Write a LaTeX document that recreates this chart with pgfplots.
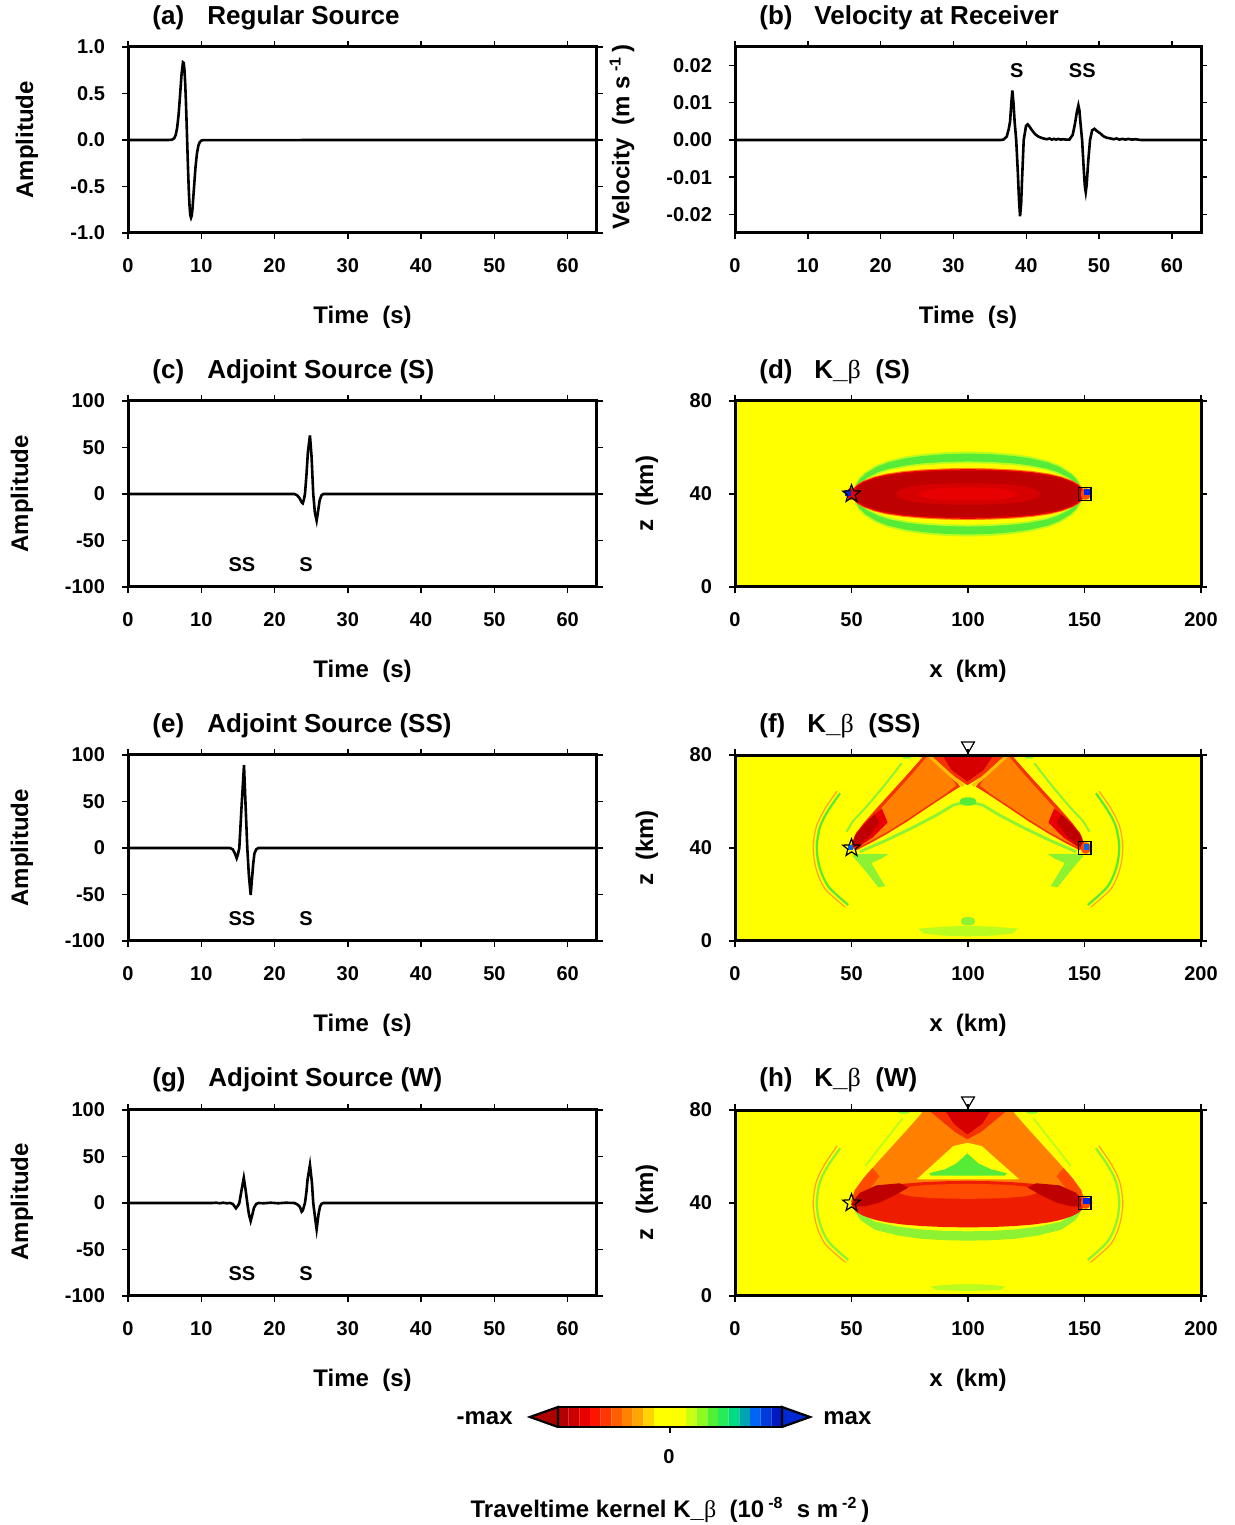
\documentclass[border=0pt]{standalone}
\usepackage{fontspec}
\setmainfont{Liberation Sans}
\newfontfamily\grk{Liberation Serif}
\usepackage{pgfplots}
\usepackage{pgfplotstable}
\pgfplotsset{compat=1.18}

% kernel palette
\definecolor{kYellow}{RGB}{255,255,0}
\definecolor{kDark}{RGB}{190,0,0}
\definecolor{kRed}{RGB}{235,0,0}
\definecolor{kRedM}{RGB}{215,0,0}
\definecolor{kRedB}{RGB}{232,0,0}
\definecolor{kRedO}{RGB}{245,50,0}
\definecolor{kRedL}{RGB}{238,28,0}
\definecolor{kRedOr}{RGB}{255,75,0}
\definecolor{kOrange}{RGB}{255,128,0}
\definecolor{kLtOrange}{RGB}{255,190,0}
\definecolor{kGreen}{RGB}{85,235,55}
\definecolor{kYG}{RGB}{185,252,30}
\definecolor{kLG}{RGB}{140,242,50}
\definecolor{kArcO}{RGB}{255,160,40}
\definecolor{kBlue}{RGB}{0,40,230}
% colour scale bins
\definecolor{cb0}{RGB}{180,0,0}
\definecolor{cb1}{RGB}{205,0,0}
\definecolor{cb2}{RGB}{235,0,0}
\definecolor{cb3}{RGB}{255,20,0}
\definecolor{cb4}{RGB}{255,55,0}
\definecolor{cb5}{RGB}{255,95,0}
\definecolor{cb6}{RGB}{255,130,0}
\definecolor{cb7}{RGB}{255,165,0}
\definecolor{cb8}{RGB}{255,210,0}
\definecolor{cb12}{RGB}{200,255,20}
\definecolor{cb13}{RGB}{140,250,30}
\definecolor{cb14}{RGB}{80,240,50}
\definecolor{cb15}{RGB}{40,235,90}
\definecolor{cb16}{RGB}{0,220,130}
\definecolor{cb17}{RGB}{0,165,175}
\definecolor{cb18}{RGB}{0,100,245}
\definecolor{cb19}{RGB}{0,60,220}
\definecolor{cb20}{RGB}{0,25,195}
\definecolor{cbL}{RGB}{175,0,0}
\definecolor{cbR}{RGB}{0,40,210}

\newcommand\tickfont{\fontsize{10}{12}\selectfont\bfseries}
\newcommand\labfont{\fontsize{12}{14}\selectfont\bfseries}
\newcommand\titfont{\fontsize{13}{15}\selectfont\bfseries}
\newcommand\Kb{K\_{\grk\mdseries β}}

% outline star for the source position
\pgfdeclareplotmark{ostar}{%
  \pgfpathmoveto{\pgfpointpolar{90}{\pgfplotmarksize}}%
  \pgfpathlineto{\pgfpointpolar{126}{0.42\pgfplotmarksize}}%
  \pgfpathlineto{\pgfpointpolar{162}{\pgfplotmarksize}}%
  \pgfpathlineto{\pgfpointpolar{198}{0.42\pgfplotmarksize}}%
  \pgfpathlineto{\pgfpointpolar{234}{\pgfplotmarksize}}%
  \pgfpathlineto{\pgfpointpolar{270}{0.42\pgfplotmarksize}}%
  \pgfpathlineto{\pgfpointpolar{306}{\pgfplotmarksize}}%
  \pgfpathlineto{\pgfpointpolar{342}{0.42\pgfplotmarksize}}%
  \pgfpathlineto{\pgfpointpolar{18}{\pgfplotmarksize}}%
  \pgfpathlineto{\pgfpointpolar{54}{0.42\pgfplotmarksize}}%
  \pgfpathclose\pgfusepathqstroke}

% unit lens outline, scaled per contour
\pgfplotstableread{
u v
1 0
0.98 0.22
0.95 0.36
0.9 0.5
0.8 0.67
0.7 0.78
0.55 0.88
0.4 0.94
0.2 0.985
0 1
-0.2 0.985
-0.4 0.94
-0.55 0.88
-0.7 0.78
-0.8 0.67
-0.9 0.5
-0.95 0.36
-0.98 0.22
-1 0
-0.98 -0.22
-0.95 -0.36
-0.9 -0.5
-0.8 -0.67
-0.7 -0.78
-0.55 -0.88
-0.4 -0.94
-0.2 -0.985
0 -1
0.2 -0.985
0.4 -0.94
0.55 -0.88
0.7 -0.78
0.8 -0.67
0.9 -0.5
0.95 -0.36
0.98 -0.22
1 0
}\unitlens
% \lens{x centre}{z centre}{half length}{half height}{colour}
\newcommand\lens[5]{\addplot[draw=none,fill=#5] table[x expr={#1+#3*\thisrow{u}}, y expr={#2+#4*\thisrow{v}}] {\unitlens};}
\newcommand\cbin[3]{\addplot[draw=none,fill=#3] coordinates {(#1,0)(#2,0)(#2,1)(#1,1)(#1,0)};}

\pgfplotsset{
  base/.style={scale only axis, height=93pt,
    axis line style={line width=1.5pt},
    tick style={black, line width=0.7pt},
    tick align=outside, major tick length=3pt,
    tick label style={font=\tickfont},
    /pgf/number format/assume math mode=true,
    xticklabel style={yshift=-6pt},
    yticklabel style={xshift=-5pt}},
  wave/.style={base, width=234.5pt, xmin=0, xmax=64, xtick={0,10,...,60}},
  amp/.style={wave, ymin=-100, ymax=100, ytick={-100,-50,0,50,100}},
  kern/.style={base, width=233pt, xmin=0, xmax=200, ymin=0, ymax=80,
    xtick={0,50,100,150,200}, ytick={0,40,80}, axis on top, clip=false,
    axis background/.style={fill=kYellow}},
  trace/.style={black, line width=1.3pt},
  srcmark/.style={only marks, mark=ostar, mark size=4.6pt, mark options={black, line width=0.6pt}},
  recmark/.style={only marks, mark=square, mark size=3.2pt, mark options={black, line width=0.6pt}},
  surfmark/.style={only marks, mark=triangle, mark size=3.7pt, mark options={black, fill=white, line width=0.6pt, rotate=180}},
}

\begin{document}
\begin{tikzpicture}[font=\bfseries]
\path[use as bounding box] (0,0) rectangle (617.5pt,762.5pt);

% (a) regular source
\begin{axis}[wave, at={(64pt,646pt)}, anchor=south west,
  ymin=-1, ymax=1, ytick={-1,-0.5,0,0.5,1},
  yticklabel style={/pgf/number format/.cd, fixed, fixed zerofill, precision=1}]
\addplot[trace] coordinates {(0,0)(5.5,0)(6.0,0.003)(6.3,0.018)(6.5,0.051)(6.7,0.127)(6.9,0.267)(7.1,0.475)(7.3,0.70)(7.5,0.835)(7.6,0.829)(7.7,0.757)(7.8,0.619)(7.9,0.422)(8.0,0.181)(8.1,-0.079)(8.2,-0.329)(8.3,-0.547)(8.4,-0.711)(8.5,-0.808)(8.6,-0.835)(8.7,-0.812)(8.8,-0.738)(9.0,-0.52)(9.2,-0.304)(9.4,-0.149)(9.6,-0.062)(9.8,-0.022)(10.0,-0.007)(10.3,-0.001)(64,0)};
\end{axis}

% (b) velocity at receiver
\begin{axis}[base, width=233pt, xmin=0, xmax=64, xtick={0,10,...,60},
  at={(367.5pt,646pt)}, anchor=south west,
  ymin=-0.025, ymax=0.025, ytick={-0.02,-0.01,0,0.01,0.02}, scaled y ticks=false,
  yticklabel style={/pgf/number format/.cd, fixed, fixed zerofill, precision=2}]
\addplot[trace] coordinates {(0,0)(36.5,0)(36.86,0.0001)(37.32,0.0009)(37.6,0.0030)(37.78,0.0050)(37.95,0.0099)(38.09,0.0133)(38.25,0.0098)(38.4,0.0050)(38.62,0)(38.85,-0.0090)(39.0,-0.0160)(39.15,-0.0205)(39.3,-0.0170)(39.42,-0.0108)(39.65,0)(39.97,0.0038)(40.2,0.0042)(40.45,0.0036)(40.75,0.0027)(41.2,0.0016)(41.67,0.0009)(42.2,0.0005)(42.8,0.0002)(43.2,0.0004)(43.5,0.0001)(43.8,0.0003)(44.1,0.0001)(44.4,0.0003)(44.7,0.0001)(45.0,0.0002)(45.5,0.0001)(45.92,0.0001)(46.38,0.0014)(46.7,0.0045)(46.95,0.0075)(47.16,0.0093)(47.3,0.0080)(47.45,0.0045)(47.67,0)(47.9,-0.0080)(48.05,-0.0125)(48.17,-0.0140)(48.3,-0.0120)(48.5,-0.0060)(48.76,0)(49.05,0.0026)(49.36,0.0030)(49.7,0.0024)(50.14,0.0018)(50.6,0.0010)(51.06,0.0006)(51.6,0.0004)(52.0,0.0002)(52.4,0.0004)(52.8,0.0001)(53.2,0.0003)(53.6,0.0001)(54.0,0.0003)(54.5,0.0001)(55.0,0.0002)(55.7,0)(64,0)};
\node[font=\tickfont] at (axis cs:38.7,0.0186) {S};
\node[font=\tickfont] at (axis cs:47.7,0.0186) {SS};
\end{axis}

% (c) adjoint source, S window
\begin{axis}[amp, at={(64pt,469pt)}, anchor=south west]
\addplot[trace] coordinates {(0,0)(22.7,0)(23.1,-1.5)(23.45,-5)(23.7,-9)(23.85,-10)(24.0,-6)(24.15,0)(24.35,20)(24.55,45)(24.83,63)(25.05,40)(25.28,0)(25.5,-20)(25.74,-28.7)(25.95,-18)(26.15,-7)(26.4,-1.5)(26.65,0)(64,0)};
\node[font=\tickfont] at (axis cs:15.55,-76) {SS};
\node[font=\tickfont] at (axis cs:24.3,-76) {S};
\end{axis}

% (e) adjoint source, SS window
\begin{axis}[amp, at={(64pt,292pt)}, anchor=south west]
\addplot[trace] coordinates {(0,0)(13.9,0)(14.3,-1.5)(14.6,-6)(14.83,-11)(15.0,-7)(15.19,0)(15.5,45)(15.83,89)(16.05,45)(16.28,0)(16.5,-30)(16.74,-50.5)(16.9,-35)(17.1,-16)(17.25,-6)(17.5,-1.5)(17.78,0)(64,0)};
\node[font=\tickfont] at (axis cs:15.55,-76) {SS};
\node[font=\tickfont] at (axis cs:24.3,-76) {S};
\end{axis}

% (g) adjoint source, whole window
\begin{axis}[amp, at={(64pt,114.5pt)}, anchor=south west]
\addplot[trace] coordinates {(0,0)(11.5,0)(12,0.3)(12.5,-0.3)(13,0.3)(13.5,-0.3)(13.9,0)(14.3,-1)(14.73,-5.7)(15.0,-3)(15.19,0)(15.5,14)(15.8,27)(16.05,14)(16.28,0)(16.5,-12)(16.74,-19.4)(16.95,-13)(17.2,-5)(17.5,-1)(17.8,0)(18.5,-0.3)(19.5,0.3)(20.5,-0.3)(21.5,0.3)(22.7,0)(23.1,-1.5)(23.45,-4)(23.7,-9.3)(23.85,-8)(24.0,-4)(24.15,0)(24.35,12)(24.5,25)(24.83,41)(25.1,22)(25.28,0)(25.5,-14)(25.74,-28.3)(26.0,-12)(26.2,-4)(26.4,-1)(26.65,0)(64,0)};
\node[font=\tickfont] at (axis cs:15.55,-76) {SS};
\node[font=\tickfont] at (axis cs:24.3,-76) {S};
\end{axis}

% (d) kernel for S
\begin{axis}[kern, at={(367.5pt,469pt)}, anchor=south west]
\lens{100}{40}{49.5}{18.3}{kYG}
\lens{100}{40}{49}{17.4}{kGreen}
\lens{100}{40}{48}{14}{kYG}
\lens{100}{40}{47.5}{13.2}{kYellow}
\lens{100}{40}{50.3}{11.2}{kOrange}
\lens{100}{40}{50}{10.7}{kRed}
\lens{100}{40}{49.3}{10.1}{kDark}
\lens{100}{40}{31}{4.6}{kRedM}
\lens{100}{40}{21}{2.8}{kRedB}
\lens{50}{40}{2.2}{2.4}{kRed}
\lens{150.5}{40}{2}{2.4}{kRedOr}
\addplot[only marks, mark=square*, mark size=1.3pt, kBlue] coordinates {(151,40.8)(48.3,40.6)};
\addplot[srcmark] coordinates {(50,40)};
\addplot[recmark] coordinates {(150,40)};
\end{axis}

% (f) kernel for SS
\begin{axis}[kern, at={(367.5pt,292pt)}, anchor=south west]
% side arcs
\addplot[smooth, kArcO, line width=0.6pt] coordinates {(43.8,64.5)(38.7,57)(35,49.5)(33.6,40.6)(34.7,31.5)(38.6,22.5)(47.4,14.5)};
\addplot[smooth, kGreen, line width=1.1pt] coordinates {(45.1,63.5)(40.1,56.3)(36.5,49.2)(35.1,40.6)(36.2,32.0)(40.1,23.4)(48.6,15.5)};
\addplot[smooth, kArcO, line width=0.6pt] coordinates {(156.2,64.5)(161.3,57)(165,49.5)(166.4,40.6)(165.3,31.5)(161.4,22.5)(152.6,14.5)};
\addplot[smooth, kGreen, line width=1.1pt] coordinates {(154.9,63.5)(159.9,56.3)(163.5,49.2)(164.9,40.6)(163.8,32.0)(159.9,23.4)(151.4,15.5)};
% outer fringes
\addplot[smooth, kLG, line width=1pt] coordinates {(47.9,47.0)(51,52)(55.1,56.3)(63.7,66.4)(71.5,76.4)};
\addplot[smooth, kLG, line width=1pt] coordinates {(152.1,47.0)(149,52)(144.9,56.3)(136.3,66.4)(128.5,76.4)};
\lens{73.7}{79.2}{2}{0.8}{kLG}
\lens{126.3}{79.2}{2}{0.8}{kLG}
\addplot[kLG, line width=1.4pt] coordinates {(53.6,38.4)(65.1,43.4)(76.5,48.9)(86.6,54.2)(93.7,58.5)(99.7,59.9)(106.3,58.5)(113.4,54.2)(123.5,48.9)(134.9,43.4)(146.4,38.4)};
\lens{100}{60}{3.5}{1.8}{kGreen}
% wings below the ends
\addplot[draw=none, fill=kLG] coordinates {(51,37.5)(66,37.5)(63,35.5)(58.5,33.5)(64.5,23.5)(61.5,23.2)(54,32.5)(50.5,36.5)(51,37.5)};
\addplot[draw=none, fill=kLG] coordinates {(149,37.5)(134,37.5)(137,35.5)(141.5,33.5)(135.5,23.5)(138.5,23.2)(146,32.5)(149.5,36.5)(149,37.5)};
% bottom features
\lens{100}{8.5}{3}{1.8}{kLG}
\addplot[draw=none, fill=kYG] coordinates {(78.7,5.3)(90,6.2)(100,6.5)(110,6.2)(121.6,5.3)(119,3.2)(110,2.3)(100,2.0)(90,2.3)(81,3.2)(78.7,5.3)};
% arms
\addplot[draw=none, fill=kRedO] coordinates {(49.7,40.3)(51.5,45.6)(55.1,50.6)(60.8,57.1)(67.9,64.9)(74.4,72.1)(79.4,77.8)(81.1,80)(88,80)(93.7,70.7)(96.6,66.4)(90.9,62.8)(82.3,57.1)(73.7,51.3)(65.1,46.0)(57.9,42.0)(52.2,39.1)(49.7,40.3)};
\addplot[draw=none, fill=kRedO] coordinates {(150.3,40.3)(148.5,45.6)(144.9,50.6)(139.2,57.1)(132.1,64.9)(125.6,72.1)(120.6,77.8)(118.9,80)(112,80)(106.3,70.7)(103.4,66.4)(109.1,62.8)(117.7,57.1)(126.3,51.3)(134.9,46.0)(142.1,42.0)(147.8,39.1)(150.3,40.3)};
\addplot[draw=none, fill=kOrange] coordinates {(52.5,41.5)(54,45.5)(57.5,50.6)(62.5,56.8)(69.2,64.2)(75.5,71.2)(80.6,77.2)(83,80)(87,80)(92.5,70.5)(95,67)(90.5,63.4)(82.2,57.9)(73.6,52.1)(65.1,46.8)(58.1,43)(53.2,40.5)(52.5,41.5)};
\addplot[draw=none, fill=kOrange] coordinates {(147.5,41.5)(146,45.5)(142.5,50.6)(137.5,56.8)(130.8,64.2)(124.5,71.2)(119.4,77.2)(117,80)(113,80)(107.5,70.5)(105,67)(109.5,63.4)(117.8,57.9)(126.4,52.1)(134.9,46.8)(141.9,43)(146.8,40.5)(147.5,41.5)};
\addplot[draw=none, fill=kRed] coordinates {(49.7,40.3)(52,46.5)(57.5,52.5)(63,57)(65.5,51)(59,44.5)(53,40.5)(49.7,40.3)};
\addplot[draw=none, fill=kRed] coordinates {(150.3,40.3)(148,46.5)(142.5,52.5)(137,57)(134.5,51)(141,44.5)(147,40.5)(150.3,40.3)};
\addplot[draw=none, fill=kDark] coordinates {(49.7,40.3)(51.8,45.5)(56,50.5)(60,54.5)(62,51)(57.5,45)(53,41)(49.7,40.3)};
\addplot[draw=none, fill=kDark] coordinates {(150.3,40.3)(148.2,45.5)(144,50.5)(140,54.5)(138,51)(142.5,45)(147,41)(150.3,40.3)};
% surface bounce region
\addplot[kLtOrange, line width=1.6pt] coordinates {(83,80)(88.5,75)(94.5,69.5)(98,66.8)};
\addplot[kLtOrange, line width=1.6pt] coordinates {(117,80)(111.5,75)(105.5,69.5)(102,66.8)};
\addplot[draw=none, fill=kRedO] coordinates {(84,80)(116,80)(111,75.5)(105.5,70.5)(99.7,67)(94.5,70.5)(89,75.5)(84,80)};
\addplot[draw=none, fill=kRedM] coordinates {(89,80)(111,80)(106.6,73.5)(99.7,68.7)(93,73.5)(89,80)};
\lens{150.5}{40}{2}{2.4}{kRedOr}
\addplot[only marks, mark=square*, mark size=1.2pt, kBlue!70!cyan] coordinates {(150.8,40.6)};
\addplot[only marks, mark=square*, mark size=1pt, kBlue!70!cyan] coordinates {(49.5,40.3)};
\addplot[srcmark] coordinates {(50,40)};
\addplot[recmark] coordinates {(150,40)};
\addplot[surfmark] coordinates {(100,84)};
\end{axis}

% (h) kernel for the whole window
\begin{axis}[kern, at={(367.5pt,114.5pt)}, anchor=south west]
\addplot[smooth, kArcO, line width=0.6pt] coordinates {(43.8,64.5)(38.7,57)(35,49.5)(33.6,40.6)(34.7,31.5)(38.6,22.5)(47.4,14.5)};
\addplot[smooth, kLG, line width=1.1pt] coordinates {(45.1,63.5)(40.1,56.3)(36.5,49.2)(35.1,40.6)(36.2,32.0)(40.1,23.4)(48.6,15.5)};
\addplot[smooth, kArcO, line width=0.6pt] coordinates {(156.2,64.5)(161.3,57)(165,49.5)(166.4,40.6)(165.3,31.5)(161.4,22.5)(152.6,14.5)};
\addplot[smooth, kLG, line width=1.1pt] coordinates {(154.9,63.5)(159.9,56.3)(163.5,49.2)(164.9,40.6)(163.8,32.0)(159.9,23.4)(151.4,15.5)};
\addplot[smooth, kYG, line width=0.9pt] coordinates {(56,56)(61,62.5)(66.5,69.5)(72,76.5)};
\addplot[smooth, kYG, line width=0.9pt] coordinates {(144,56)(139,62.5)(133.5,69.5)(128,76.5)};
\lens{72.5}{79.2}{2.5}{0.8}{kLG}
\lens{127.5}{79.2}{2.5}{0.8}{kLG}
\addplot[draw=none, fill=kYG] coordinates {(84,4.2)(92,4.9)(100,5.1)(108,4.9)(116,4.2)(114,2.6)(100,2.1)(86,2.6)(84,4.2)};
% band below the direct path
\addplot[draw=none, fill=kLG] coordinates {(51,37)(54,32.5)(60,28.5)(70,26)(80,24.6)(90,24)(100,23.8)(110,24)(120,24.6)(130,26)(140,28.5)(146,32.5)(149,37)(147,36.5)(140,32)(130,29.8)(120,28.6)(110,28)(100,27.8)(90,28)(80,28.6)(70,29.8)(60,32)(53,36.5)(51,37)};
% arms and surface bounce
\addplot[draw=none, fill=kOrange] coordinates {(49.7,40.3)(51.5,45.6)(55.1,50.6)(60.8,57.1)(67.9,64.9)(74.4,72.1)(79.4,77.8)(81.1,80)(118.9,80)(120.6,77.8)(125.6,72.1)(132.1,64.9)(139.2,57.1)(144.9,50.6)(148.5,45.6)(150.3,40.3)(100,40)(49.7,40.3)};
\addplot[draw=none, fill=kRedOr] coordinates {(49.7,40.3)(51.5,45.6)(55.1,50.6)(59,55)(62,51.5)(57,45)(52,40.5)(49.7,40.3)};
\addplot[draw=none, fill=kRedOr] coordinates {(150.3,40.3)(148.5,45.6)(144.9,50.6)(141,55)(138,51.5)(143,45)(148,40.5)(150.3,40.3)};
\addplot[draw=none, fill=kYellow] coordinates {(78,50.2)(93.7,64.5)(99.7,65.9)(105.9,64.5)(122,50.2)(78,50.2)};
\addplot[draw=none, fill=kGreen] coordinates {(99.7,61.3)(104.5,57)(110,54.5)(116.6,52.8)(116,51.8)(84,51.8)(83.4,52.8)(90,54.5)(95,57)(99.7,61.3)};
\addplot[draw=none, fill=kRedO] coordinates {(83,80)(117,80)(111,75)(105.5,70.5)(99.7,67.4)(94.5,70.5)(89,75)(83,80)};
\addplot[draw=none, fill=kRedM] coordinates {(90,80)(110,80)(106,74)(99.7,69.5)(94,74)(90,80)};
% direct path lens
\lens{100}{39.5}{50}{10}{kRedL}
\lens{100}{45}{30}{3.2}{kRedOr}
\addplot[draw=none, fill=kDark] coordinates {(49.7,39.4)(53.6,44.4)(60.8,47.6)(70.8,48.5)(74.4,46.6)(68,43)(62,40.2)(56,38.6)(51,38.5)(49.7,39.4)};
\addplot[draw=none, fill=kDark] coordinates {(150.3,39.4)(146.4,44.4)(139.2,47.6)(129.2,48.5)(125.6,46.6)(132,43)(138,40.2)(144,38.6)(149,38.5)(150.3,39.4)};
\lens{150.5}{40}{2}{2.4}{kRedOr}
\addplot[only marks, mark=square*, mark size=1.3pt, kBlue] coordinates {(150.8,40.8)};
\addplot[srcmark] coordinates {(50,40)};
\addplot[recmark] coordinates {(150,40)};
\addplot[surfmark] coordinates {(100,84)};
\end{axis}

% colour scale
\begin{axis}[at={(265pt,49pt)}, anchor=south west, scale only axis, width=140pt, height=10pt,
  xmin=-1.25, xmax=1.25, ymin=0, ymax=1, hide axis, clip=false]
\cbin{-1}{-0.9048}{cb0}
\cbin{-0.9048}{-0.8095}{cb1}
\cbin{-0.8095}{-0.7143}{cb2}
\cbin{-0.7143}{-0.6190}{cb3}
\cbin{-0.6190}{-0.5238}{cb4}
\cbin{-0.5238}{-0.4286}{cb5}
\cbin{-0.4286}{-0.3333}{cb6}
\cbin{-0.3333}{-0.2381}{cb7}
\cbin{-0.2381}{-0.1429}{cb8}
\cbin{-0.1429}{0.1429}{kYellow}
\cbin{0.1429}{0.2381}{cb12}
\cbin{0.2381}{0.3333}{cb13}
\cbin{0.3333}{0.4286}{cb14}
\cbin{0.4286}{0.5238}{cb15}
\cbin{0.5238}{0.6190}{cb16}
\cbin{0.6190}{0.7143}{cb17}
\cbin{0.7143}{0.8095}{cb18}
\cbin{0.8095}{0.9048}{cb19}
\cbin{0.9048}{1}{cb20}
\addplot[fill=cbL, draw=black, line width=1.1pt] coordinates {(-1,0)(-1.25,0.5)(-1,1)(-1,0)};
\addplot[fill=cbR, draw=black, line width=1.1pt] coordinates {(1,0)(1.25,0.5)(1,1)(1,0)};
\addplot[black, line width=1.3pt] coordinates {(-1,0)(1,0)(1,1)(-1,1)(-1,0)};
\addplot[black, line width=0.7pt] coordinates {(0,0)(0,-0.28)};
\end{axis}

% panel titles
\begin{scope}[every node/.style={inner sep=0pt, anchor=base west, font=\titfont}]
\node at (76pt,750pt) {(a)}; \node at (103.5pt,750pt) {Regular Source};
\node at (379.5pt,750pt) {(b)}; \node at (407pt,750pt) {Velocity at Receiver};
\node at (76pt,573pt) {(c)}; \node at (103.5pt,573pt) {Adjoint Source (S)};
\node at (379.5pt,573pt) {(d)}; \node at (407pt,573pt) {\Kb}; \node at (437.5pt,573pt) {(S)};
\node at (76pt,396pt) {(e)}; \node at (103.5pt,396pt) {Adjoint Source (SS)};
\node at (379.5pt,396pt) {(f)}; \node at (403.5pt,396pt) {\Kb}; \node at (434pt,396pt) {(SS)};
\node at (76pt,219pt) {(g)}; \node at (104pt,219pt) {Adjoint Source (W)};
\node at (379.5pt,219pt) {(h)}; \node at (407pt,219pt) {\Kb}; \node at (437.5pt,219pt) {(W)};
\end{scope}

% axis labels
\begin{scope}[every node/.style={inner sep=0pt, font=\labfont}]
\node[rotate=90] at (13.5pt,692.5pt) {Amplitude};
\node[rotate=90] at (11pt,515.5pt) {Amplitude};
\node[rotate=90] at (11pt,338.5pt) {Amplitude};
\node[rotate=90] at (11pt,161.5pt) {Amplitude};
\node[rotate=90] at (311pt,694pt) {Velocity~~(m s\,\textsuperscript{-1}\,)};
\node[rotate=90] at (323.5pt,515.5pt) {z~~(km)};
\node[rotate=90] at (323.5pt,338.5pt) {z~~(km)};
\node[rotate=90] at (323.5pt,161.5pt) {z~~(km)};
\node at (181.25pt,604pt) {Time~~(s)};
\node at (484pt,604pt) {Time~~(s)};
\node at (181.25pt,427pt) {Time~~(s)};
\node at (484pt,427pt) {x~~(km)};
\node at (181.25pt,250pt) {Time~~(s)};
\node at (484pt,250pt) {x~~(km)};
\node at (181.25pt,72.5pt) {Time~~(s)};
\node at (484pt,72.5pt) {x~~(km)};
\node[anchor=east] at (256.5pt,53.5pt) {-max};
\node[anchor=west] at (411.5pt,53.5pt) {max};
\node[font=\tickfont] at (334.5pt,34pt) {0};
\node at (335pt,7.5pt) {Traveltime kernel \Kb~~(10\,\textsuperscript{-8}~~s m\,\textsuperscript{-2}\,)};
\end{scope}
\end{tikzpicture}
\end{document}
